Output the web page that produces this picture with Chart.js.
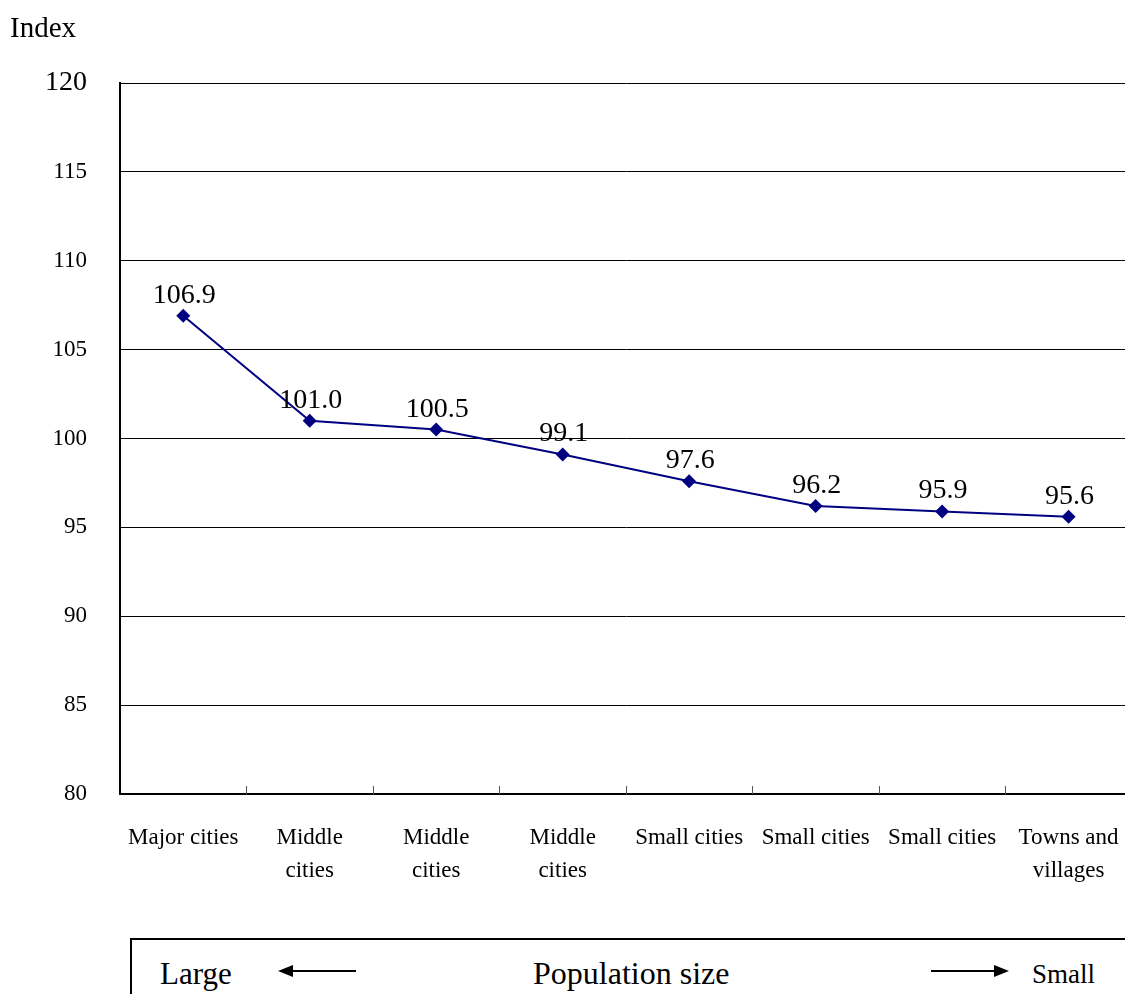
<!DOCTYPE html>
<html>
<head>
<meta charset="utf-8">
<script src="https://cdn.jsdelivr.net/npm/chart.js@4/dist/chart.umd.min.js"></script>
<style>
  html, body { margin: 0; padding: 0; background: #fff; overflow: hidden; }
  #wrap { position: relative; width: 1125px; height: 994px; overflow: hidden; font-family: "Liberation Serif", "Times New Roman", serif; }
  #cv { position: absolute; left: 0; top: 0; }
  #ylab { position: absolute; left: 10px; top: 13px; font-size: 29px; line-height: 1; }
  #box { position: absolute; left: 130px; top: 938px; width: 1100px; height: 80px; border: 2px solid #000; box-sizing: border-box; }
  .bt { position: absolute; font-size: 31px; line-height: 1; white-space: nowrap; }
  svg.arr { position: absolute; top: 964px; }
</style>
</head>
<body>
<div id="wrap">
  <canvas id="cv" width="1146" height="900"></canvas>
  <div id="ylab">Index</div>
  <div id="box"></div>
  <div class="bt" style="left:160px; top:958px;">Large</div>
  <svg class="arr" style="left:276px;" width="82" height="14">
    <line x1="10" y1="7" x2="80" y2="7" stroke="#000" stroke-width="2"/>
    <polygon points="2,7 17,1 17,13" fill="#000"/>
  </svg>
  <div class="bt" style="left:533px; top:957px; font-size:32px;">Population size</div>
  <svg class="arr" style="left:929px;" width="82" height="14">
    <line x1="2" y1="7" x2="72" y2="7" stroke="#000" stroke-width="2"/>
    <polygon points="80,7 65,1 65,13" fill="#000"/>
  </svg>
  <div class="bt" style="left:1032px; top:961px; font-size:27px;">Small</div>
</div>
<script>
const categories = [
  "Major cities",
  ["Middle", "cities"],
  ["Middle", "cities"],
  ["Middle", "cities"],
  "Small cities",
  "Small cities",
  "Small cities",
  ["Towns and", "villages"]
];
const indexValues = [106.9, 101.0, 100.5, 99.1, 97.6, 96.2, 95.9, 95.6];
const yMin = 80;
const yMax = 120;
const yStep = 5;

// value labels above each point
const valueLabels = {
  id: "valueLabels",
  afterDatasetsDraw(chart) {
    const ctx = chart.ctx;
    const meta = chart.getDatasetMeta(0);
    ctx.save();
    ctx.font = "28px 'Liberation Serif'";
    ctx.fillStyle = "#000";
    ctx.textAlign = "center";
    ctx.textBaseline = "alphabetic";
    meta.data.forEach((pt, i) => {
      ctx.fillText(indexValues[i].toFixed(1), pt.x + 1, pt.y - 13);
    });
    ctx.restore();
  }
};

// short upward tick marks between categories on the x axis
const innerTicks = {
  id: "innerTicks",
  afterDraw(chart) {
    const ctx = chart.ctx;
    const x = chart.scales.x;
    const bottom = chart.chartArea.bottom;
    ctx.save();
    ctx.strokeStyle = "#555";
    ctx.lineWidth = 1;
    for (let i = 1; i < categories.length; i++) {
      const px = Math.round((x.getPixelForTick(i - 1) + x.getPixelForTick(i)) / 2) + 0.5;
      ctx.beginPath();
      ctx.moveTo(px, bottom);
      ctx.lineTo(px, bottom - 8);
      ctx.stroke();
    }
    ctx.restore();
  }
};

const ctx = document.getElementById("cv").getContext("2d");
const myChart = new Chart(ctx, {
  type: "line",
  data: {
    labels: categories,
    datasets: [{
      data: indexValues,
      borderColor: "#000080",
      backgroundColor: "#000080",
      borderWidth: 2,
      pointStyle: "rectRot",
      pointRadius: 7,
      pointBorderWidth: 0,
      tension: 0
    }]
  },
  options: {
    responsive: false,
    animation: false,
    layout: { padding: { top: 83, right: 7, bottom: 0, left: 0 } },
    plugins: { legend: { display: false }, tooltip: { enabled: false } },
    scales: {
      x: {
        offset: true,
        grid: { display: false, drawTicks: false },
        border: { display: true, color: "#000", width: 2 },
        ticks: {
          color: "#000",
          padding: 27,
          maxRotation: 0,
          autoSkip: false,
          font: { family: "'Liberation Serif'", size: 23, lineHeight: 1.45 }
        },
        afterFit(scale) { scale.height = 106; }
      },
      y: {
        min: yMin,
        max: yMax,
        grid: { color: "#000", lineWidth: 1, drawTicks: false },
        border: { display: true, color: "#000", width: 2 },
        ticks: {
          stepSize: yStep,
          color: "#000",
          padding: 33,
          font: (c) => ({ family: "'Liberation Serif'", size: c.tick && c.tick.value === yMax ? 28 : 23 })
        },
        afterFit(scale) { scale.width = 120; }
      }
    }
  },
  plugins: [valueLabels, innerTicks]
});
</script>
</body>
</html>
